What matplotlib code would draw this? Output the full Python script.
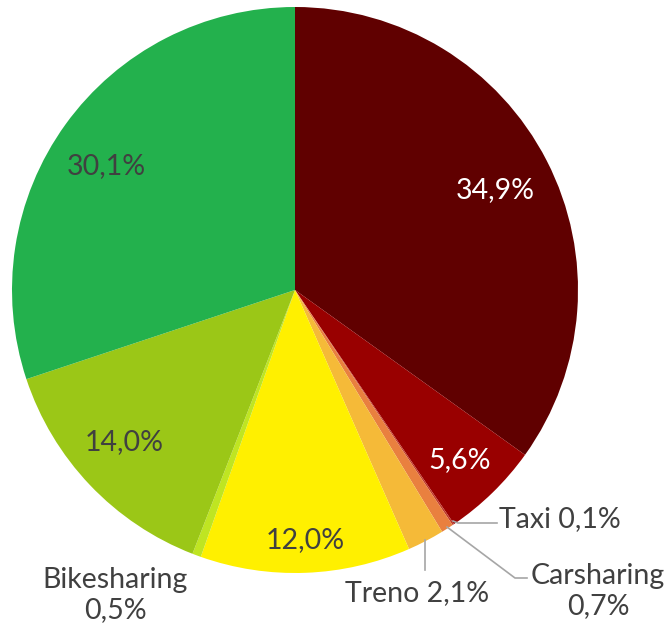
import matplotlib
matplotlib.use("Agg")
import matplotlib.pyplot as plt

# data (share of trips, %)
labels = ["Auto", "Moto", "Taxi", "Carsharing", "Treno", "Bus", "Bikesharing", "Bici", "Piedi"]
values = [34.9, 5.6, 0.1, 0.7, 2.1, 12.0, 0.5, 14.0, 30.1]
colors = ["#600000", "#990000", "#C0392B", "#E9803F", "#F5BA38",
          "#FFF000", "#BFE522", "#9BC717", "#23B14D"]

W, H = 669, 631
CX, CY, R = 295, 290, 283
GRAY = "#404040"
LINE = "#A6A6A6"


def fmt(v):
    return ("%.1f%%" % v).replace(".", ",")


def Y(y):
    # pixel row -> data y
    return H - y


plt.rcParams["font.family"] = ["Lato", "DejaVu Sans"]
fig = plt.figure(figsize=(W / 100, H / 100), dpi=100)
ax = fig.add_axes([0, 0, 1, 1])

ax.pie(values, colors=colors, startangle=90, counterclock=False,
       center=(CX, Y(CY)), radius=R, frame=True,
       wedgeprops=dict(linewidth=0))
ax.set_xlim(0, W)
ax.set_ylim(0, H)
ax.axis("off")

fs = 20.5
# labels inside slices: (index, x, y, colour)
inside = [(0, 495, 190, "white"), (1, 460, 460, "white"),
          (5, 305, 540, GRAY), (7, 124, 442, GRAY), (8, 106, 166, GRAY)]
for i, x, y, c in inside:
    ax.text(x, Y(y), fmt(values[i]), ha="center", va="center",
            fontsize=fs, color=c)

# outside labels with leader lines
ax.text(560, Y(519), "%s %s" % (labels[2], fmt(values[2])), ha="center",
        va="center", fontsize=fs, color=GRAY)
ax.plot([453, 458, 497], [Y(521), Y(523), Y(523)], color=LINE, lw=1.2)

ax.text(598, Y(591), "%s\n%s" % (labels[3], fmt(values[3])), ha="center",
        va="center", fontsize=fs, color=GRAY, linespacing=1.2)
ax.plot([447, 515, 527], [Y(527), Y(578), Y(578)], color=LINE, lw=1.2)

ax.text(417, Y(593), "%s %s" % (labels[4], fmt(values[4])), ha="center",
        va="center", fontsize=fs, color=GRAY)
ax.plot([425, 425], [Y(540), Y(570)], color=LINE, lw=1.2)

ax.text(115, Y(595), "%s\n%s" % (labels[6], fmt(values[6])), ha="center",
        va="center", fontsize=fs, color=GRAY, linespacing=1.2)

fig.savefig("out.png", dpi=100, facecolor="white")
